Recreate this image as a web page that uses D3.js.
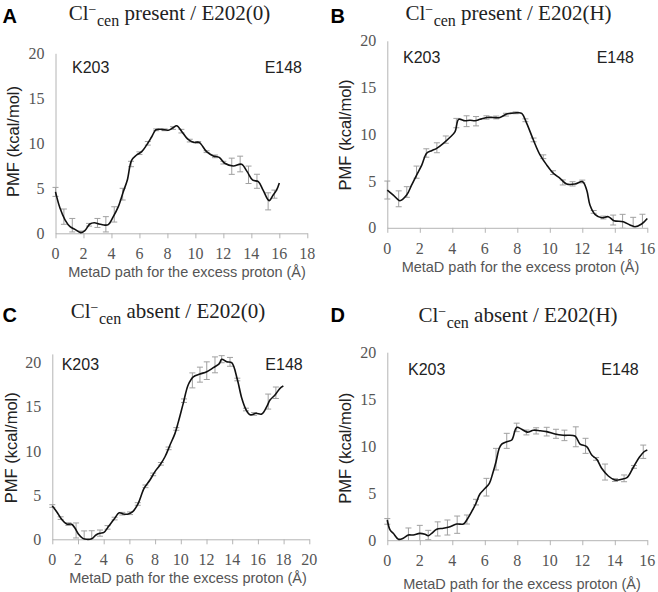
<!DOCTYPE html>
<html>
<head>
<meta charset="utf-8">
<script src="https://cdn.jsdelivr.net/npm/d3@7"></script>
<style>
  body { margin: 0; background: #fff; }
  svg { display: block; }
</style>
</head>
<body>
<svg id="fig" width="658" height="592"></svg>
<script>
// --- data (x in Å, PMF in kcal/mol) ---
var yTicks = [0, 5, 10, 15, 20]
var xTicks18 = [0, 2, 4, 6, 8, 10, 12, 14, 16, 18]
var xTicks16 = [0, 2, 4, 6, 8, 10, 12, 14, 16]
var xTicks20 = [0, 2, 4, 6, 8, 10, 12, 14, 16, 18, 20]

// A: Cl- present / E202(0)
var aX = [0, 0.32, 0.68, 1.04, 1.39, 1.8, 2.1, 2.46, 2.77, 3.13, 3.46, 3.77, 4.13, 4.49, 4.84, 5.13, 5.44, 5.8, 6.16, 6.51, 6.87, 7.18, 7.59, 8.06, 8.37, 8.66, 9.01, 9.37, 9.6, 9.9, 10.27, 10.8, 11.28, 11.7, 12.1, 12.7, 13.3, 13.7, 14.1, 14.5, 14.84, 15.27, 15.56, 15.8, 16.0]
var aPMF = [4.6, 2.8, 1.5, 0.74, 0.44, 0.07, 0.3, 1.03, 1.18, 1.03, 0.92, 0.96, 1.85, 2.96, 4.6, 5.9, 8.1, 8.7, 9.07, 9.8, 10.7, 11.5, 11.55, 11.45, 11.7, 11.95, 11.35, 10.6, 10.3, 10.1, 10.1, 9.07, 8.6, 8.44, 7.78, 7.48, 7.67, 6.85, 5.9, 5.74, 4.8, 3.63, 4.26, 4.8, 5.6]
var aBarX = [0, 0.6, 1.2, 1.8, 2.4, 3.0, 3.6, 4.2, 4.8, 5.4, 6.0, 6.6, 7.2, 7.8, 8.4, 9.0, 9.6, 10.2, 10.8, 11.4, 12.0, 12.6, 13.2, 13.8, 14.4, 15.2, 15.65]
var aBarPMF = [4.6, 1.85, 0.9, 0.1, 0.95, 1.15, 1.0, 2.1, 4.35, 7.7, 8.9, 10.0, 11.5, 11.5, 11.7, 11.35, 10.3, 10.1, 9.07, 8.55, 7.85, 7.45, 7.7, 6.5, 5.78, 3.55, 4.35]
var aBarErr = [0.5, 0.85, 0.75, 0.15, 0.15, 0.5, 0.85, 0.85, 0.65, 0.3, 0.15, 0.2, 0.1, 0.1, 0.15, 0.2, 0.15, 0.1, 0.1, 0.15, 0.15, 0.9, 0.87, 0.97, 0.78, 0.95, 0.45]

// B: Cl- present / E202(H)
var bX = [0, 0.37, 0.78, 1.19, 1.5, 1.81, 2.12, 2.42, 2.73, 3.04, 3.45, 3.86, 4.17, 4.39, 4.78, 5.09, 5.4, 5.7, 6.12, 6.52, 6.93, 7.34, 7.55, 8.0, 8.27, 8.58, 8.99, 9.4, 9.81, 10.22, 10.63, 11.04, 11.55, 12.02, 12.27, 12.47, 12.78, 13.19, 13.6, 13.95, 14.52, 14.93, 15.24, 15.65, 16.0]
var bPMF = [4.04, 3.5, 2.9, 3.5, 4.58, 5.65, 6.7, 7.97, 8.25, 8.5, 9.04, 9.68, 10.28, 11.6, 11.45, 11.5, 11.45, 11.6, 11.8, 11.8, 11.8, 12.17, 12.24, 12.3, 12.24, 11.17, 9.39, 7.79, 6.72, 5.83, 5.29, 4.68, 4.68, 4.93, 4.04, 2.44, 1.44, 1.08, 1.19, 0.76, 0.65, 0.3, 0.12, 0.41, 1.0]
var bBarX = [0, 0.7, 1.2, 1.8, 2.4, 3.05, 3.6, 4.25, 4.88, 5.46, 6.1, 6.7, 7.3, 7.9, 8.5, 9.0, 9.6, 10.2, 10.8, 11.4, 12.0, 12.7, 13.3, 13.9, 14.48, 15.13, 15.7]
var bBarPMF = [4.04, 3.1, 3.83, 5.95, 8.0, 8.56, 9.43, 11.2, 11.4, 11.4, 11.8, 11.8, 12.1, 12.3, 11.5, 9.4, 7.6, 5.9, 4.85, 4.7, 4.95, 1.7, 1.1, 0.83, 0.7, 0.15, 0.45]
var bBarErr = [0.96, 0.85, 0.57, 0.65, 0.45, 0.53, 0.39, 0.5, 0.58, 0.5, 0.18, 0.15, 0.15, 0.1, 0.15, 0.2, 0.2, 0.2, 0.27, 0.23, 0.15, 0.15, 0.15, 0.53, 0.74, 0.97, 1.0]

// C: Cl- absent / E202(0)
var cX = [0, 0.34, 0.73, 1.12, 1.51, 1.77, 2.03, 2.37, 2.68, 3.07, 3.4, 3.71, 4.02, 4.36, 4.8, 5.21, 5.53, 5.91, 6.26, 6.69, 7.14, 7.6, 7.99, 8.38, 8.77, 9.16, 9.55, 9.81, 10.19, 10.58, 10.97, 11.49, 12.02, 12.53, 13.0, 13.18, 13.57, 13.96, 14.4, 14.74, 15.07, 15.39, 15.85, 16.3, 16.69, 16.94, 17.33, 17.72, 17.98]
var cPMF = [3.77, 3.13, 2.26, 1.73, 1.7, 1.25, 0.6, 0.11, 0, 0.07, 0.49, 0.68, 0.79, 1.43, 2.26, 3.0, 2.87, 2.87, 3.13, 4.08, 5.77, 6.72, 7.66, 8.41, 9.35, 10.68, 12.0, 13.3, 15.4, 17.5, 18.4, 18.72, 18.98, 19.44, 19.9, 20.4, 20.1, 20.0, 18.1, 16.0, 14.7, 14.1, 14.27, 14.19, 15.02, 15.77, 16.34, 17.1, 17.36]
var cBarX = [0, 0.65, 1.25, 1.85, 2.48, 3.07, 3.71, 4.3, 4.85, 5.45, 6.05, 6.65, 7.25, 7.85, 8.45, 9.05, 9.65, 10.25, 10.9, 11.49, 12.02, 12.66, 13.18, 13.83, 14.4, 15.07, 15.7, 16.8, 17.4]
var cBarPMF = [3.77, 2.4, 1.72, 1.0, 0.05, 0.07, 0.7, 1.35, 2.35, 2.9, 2.95, 4.0, 6.0, 7.35, 8.55, 10.3, 12.5, 15.7, 18.0, 18.65, 19.1, 19.76, 20.4, 20.1, 18.1, 14.7, 14.2, 15.6, 16.6]
var cBarErr = [0.15, 0.15, 0.15, 0.85, 0.9, 0.9, 0.35, 0.2, 0.15, 0.15, 0.15, 0.15, 0.15, 0.15, 0.15, 0.15, 0.15, 0.2, 0.85, 0.85, 1.0, 0.9, 0.4, 0.5, 0.15, 0.15, 0.15, 0.85, 0.65]

// D: Cl- absent / E202(H)
var dX = [0, 0.17, 0.37, 0.68, 0.98, 1.3, 1.6, 2.0, 2.32, 2.52, 2.73, 3.04, 3.45, 3.86, 4.27, 4.68, 4.89, 5.19, 5.46, 5.7, 6.02, 6.28, 6.49, 6.69, 6.89, 7.04, 7.35, 7.66, 7.96, 8.27, 8.62, 8.99, 9.4, 9.81, 10.32, 10.83, 11.55, 11.86, 12.27, 12.58, 12.89, 13.19, 13.6, 14.01, 14.42, 14.77, 15.14, 15.51, 15.8, 16.0]
var dPMF = [2.15, 1.09, 0.73, 0.1, 0.2, 0.55, 0.55, 0.73, 0.63, 0.48, 0.73, 1.16, 1.27, 1.44, 1.72, 1.72, 2.15, 3.03, 3.93, 4.91, 5.52, 6.05, 7.12, 8.35, 9.78, 10.23, 10.48, 10.66, 12.0, 11.8, 11.5, 11.7, 11.65, 11.55, 11.3, 11.16, 11.08, 10.23, 9.95, 9.06, 8.6, 7.65, 6.83, 6.4, 6.48, 6.69, 7.76, 8.82, 9.41, 9.6]
var dBarX = [0, 1.3, 2.0, 2.52, 3.1, 3.7, 4.3, 4.9, 5.46, 6.1, 6.69, 7.35, 7.96, 8.56, 9.16, 9.81, 10.38, 10.9, 11.6, 12.2, 12.85, 13.4, 14.01, 14.57, 15.18, 15.75]
var dBarPMF = [2.0, 0.5, 0.73, 0.55, 1.2, 1.35, 1.65, 2.2, 4.05, 5.64, 8.62, 10.57, 12.0, 11.46, 11.63, 11.55, 11.32, 11.15, 11.0, 10.04, 8.65, 7.25, 6.4, 6.58, 7.8, 9.41]
var dBarErr = [0.3, 0.8, 0.85, 0.5, 0.75, 0.8, 0.92, 0.48, 0.3, 0.94, 1.15, 0.8, 0.45, 0.26, 0.33, 0.46, 0.48, 0.56, 1.06, 0.8, 0.15, 0.85, 0.15, 0.36, 0.15, 0.71]

// panel layout (pixel boxes of each plot area)
var panels = [
  { letter: 'A', cond: 'present', state: 'E202(0)', x: aX, y: aPMF, bx: aBarX, by: aBarPMF, be: aBarErr,
    xTicks: xTicks18, yMax: 20, left: 55.5, right: 307.3, bottom: 233.3, top: 53.3,
    letterPos: [2.5, 22.5], titleX: 169.5, titleY: 20, kPos: [72, 72.7], ePos: [302, 72.7],
    yLab: [19, 141.5], xLab: [187, 277], tickY: 259 },
  { letter: 'B', cond: 'present', state: 'E202(H)', x: bX, y: bPMF, bx: bBarX, by: bBarPMF, be: bBarErr,
    xTicks: xTicks16, yMax: 20, left: 387.3, right: 647.3, bottom: 227.8, top: 40.8,
    letterPos: [330.5, 23], titleX: 508.5, titleY: 20, kPos: [403, 63.3], ePos: [634, 63.3],
    yLab: [351, 135], xLab: [520.5, 271.5], tickY: 254 },
  { letter: 'C', cond: 'absent', state: 'E202(0)', x: cX, y: cPMF, bx: cBarX, by: cBarPMF, be: cBarErr,
    xTicks: xTicks20, yMax: 21, left: 52.3, right: 309.3, bottom: 539.3, top: 353.9,
    letterPos: [2.5, 322], titleX: 168, titleY: 318, kPos: [61.7, 370], ePos: [302.7, 370],
    yLab: [16.5, 447.7], xLab: [188, 583], tickY: 565 },
  { letter: 'D', cond: 'absent', state: 'E202(H)', x: dX, y: dPMF, bx: dBarX, by: dBarPMF, be: dBarErr,
    xTicks: xTicks16, yMax: 20, left: 387.3, right: 647.3, bottom: 540.2, top: 352.2,
    letterPos: [330.5, 322], titleX: 518, titleY: 322, kPos: [408, 375.3], ePos: [638.7, 375.3],
    yLab: [351, 448.3], xLab: [522, 589], tickY: 566 }
]

var svg = d3.select('#fig')
var serif = '"Liberation Serif", "Times New Roman", serif'
var sans = '"Liberation Sans", Arial, sans-serif'
var axisColor = '#b4b4b4'

panels.forEach(function (p, i) {
  var xMax = p.xTicks[p.xTicks.length - 1]
  var x = d3.scaleLinear().domain([0, xMax]).range([p.left, p.right])
  var y = d3.scaleLinear().domain([0, p.yMax]).range([p.bottom, p.top])
  var g = svg.append('g')

  // clip so error bars stop at the x axis
  svg.append('clipPath').attr('id', 'clip' + i)
    .append('rect')
    .attr('x', p.left - 10).attr('y', p.top - 10)
    .attr('width', p.right - p.left + 20).attr('height', p.bottom - p.top + 10)

  // x axis
  var xAxis = g.append('g')
    .attr('transform', 'translate(0,' + p.bottom + ')')
    .call(d3.axisBottom(x).tickValues(p.xTicks).tickSize(5).tickSizeOuter(0).tickFormat(d3.format('d')))
  xAxis.select('.domain').attr('stroke', axisColor)
  xAxis.selectAll('.tick line').attr('stroke', axisColor)
  xAxis.selectAll('.tick text').remove()
  g.selectAll('.xtl').data(p.xTicks).enter().append('text')
    .attr('x', function (d) { return x(d) })
    .attr('y', p.tickY)
    .attr('text-anchor', 'middle')
    .attr('font-family', serif).attr('font-size', 16).attr('fill', '#555')
    .text(function (d) { return d })

  // y axis (no tick marks)
  var yAxis = g.append('g')
    .attr('transform', 'translate(' + p.left + ',0)')
    .call(d3.axisLeft(y).tickValues(yTicks).tickSize(0).tickSizeOuter(0))
  yAxis.select('.domain').attr('stroke', axisColor)
  yAxis.selectAll('.tick text').remove()
  g.selectAll('.ytl').data(yTicks).enter().append('text')
    .attr('x', p.left - 11)
    .attr('y', function (d) { return y(d) + 5.5 })
    .attr('text-anchor', 'end')
    .attr('font-family', serif).attr('font-size', 16).attr('fill', '#555')
    .text(function (d) { return d })

  // error bars
  var bars = d3.range(p.bx.length).map(function (k) {
    return { x: p.bx[k], v: p.by[k], e: p.be[k] }
  })
  var eb = g.append('g').attr('clip-path', 'url(#clip' + i + ')')
    .attr('stroke', '#a0a0a0').attr('stroke-width', 1)
  eb.selectAll('.v').data(bars).enter().append('line')
    .attr('x1', function (d) { return x(d.x) }).attr('x2', function (d) { return x(d.x) })
    .attr('y1', function (d) { return y(d.v - d.e) }).attr('y2', function (d) { return y(d.v + d.e) })
  eb.selectAll('.t').data(bars).enter().append('line')
    .attr('x1', function (d) { return x(d.x) - 3 }).attr('x2', function (d) { return x(d.x) + 3 })
    .attr('y1', function (d) { return y(d.v + d.e) }).attr('y2', function (d) { return y(d.v + d.e) })
  eb.selectAll('.b').data(bars).enter().append('line')
    .attr('x1', function (d) { return x(d.x) - 3 }).attr('x2', function (d) { return x(d.x) + 3 })
    .attr('y1', function (d) { return y(d.v - d.e) }).attr('y2', function (d) { return y(d.v - d.e) })

  // PMF curve
  var pts = d3.zip(p.x, p.y)
  var line = d3.line()
    .curve(d3.curveCatmullRom.alpha(0.5))
    .x(function (d) { return x(d[0]) })
    .y(function (d) { return y(d[1]) })
  g.append('path').datum(pts)
    .attr('d', line)
    .attr('fill', 'none').attr('stroke', '#111').attr('stroke-width', 1.6)

  // panel letter
  g.append('text').attr('x', p.letterPos[0]).attr('y', p.letterPos[1])
    .attr('font-family', sans).attr('font-weight', 'bold').attr('font-size', 20).attr('fill', '#000')
    .text(p.letter)

  // title with Cl-cen (superscript minus, subscript "cen")
  var t = g.append('text').attr('x', p.titleX).attr('y', p.titleY)
    .attr('text-anchor', 'middle').attr('font-family', serif).attr('font-size', 21).attr('fill', '#222')
  t.append('tspan').text('Cl')
  t.append('tspan').attr('font-size', 14).attr('dy', -6).text('\u2212')
  t.append('tspan').attr('font-size', 16).attr('dy', 12).attr('dx', 0.5).text('cen')
  t.append('tspan').attr('dy', -6).text(' ' + p.cond + ' / ' + p.state)

  // residue labels
  g.append('text').attr('x', p.kPos[0]).attr('y', p.kPos[1])
    .attr('font-family', sans).attr('font-size', 16).attr('fill', '#222').text('K203')
  g.append('text').attr('x', p.ePos[0]).attr('y', p.ePos[1]).attr('text-anchor', 'end')
    .attr('font-family', sans).attr('font-size', 16).attr('fill', '#222').text('E148')

  // axis titles
  g.append('text')
    .attr('transform', 'translate(' + p.yLab[0] + ',' + p.yLab[1] + ') rotate(-90)')
    .attr('text-anchor', 'middle').attr('font-family', sans).attr('font-size', 16.5).attr('fill', '#222')
    .text('PMF (kcal/mol)')
  g.append('text').attr('x', p.xLab[0]).attr('y', p.xLab[1])
    .attr('text-anchor', 'middle').attr('font-family', sans).attr('font-size', 14.5).attr('fill', '#555')
    .text('MetaD path for the excess proton (\u00c5)')
})
</script>
</body>
</html>
